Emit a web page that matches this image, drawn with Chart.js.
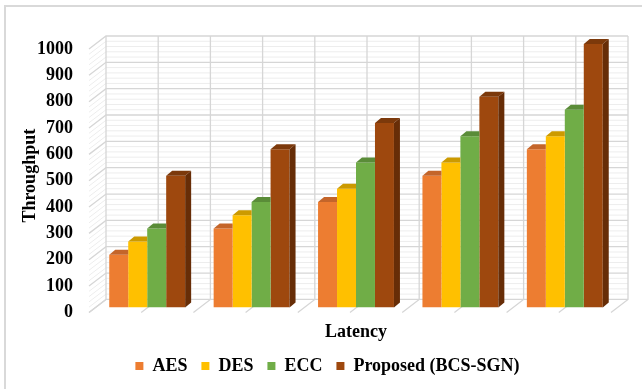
<!DOCTYPE html>
<html>
<head>
<meta charset="utf-8">
<script src="https://cdn.jsdelivr.net/npm/chart.js@4.4.0/dist/chart.umd.min.js"></script>
<style>
  html, body { margin: 0; padding: 0; background: #ffffff; }
  #wrap { width: 642px; height: 389px; position: relative; }
</style>
</head>
<body>
<div id="wrap"><canvas id="chart" width="642" height="389"></canvas></div>
<script>
// Five latency groups (no category captions on the axis)
const categories = ['', '', '', '', ''];
const seriesNames = ['AES', 'DES', 'ECC', 'Proposed (BCS-SGN)'];
const aesValues = [200, 300, 400, 500, 600];
const desValues = [250, 350, 450, 550, 650];
const eccValues = [300, 400, 550, 650, 750];
const proposedValues = [500, 600, 700, 800, 1000];

// Value axis
const yMin = 0;
const yMax = 1000;
const yStep = 100;
const yMinorStep = 20;

// Face colours: front, top, side
const frontColors = ['#ED7D31', '#FFC000', '#70AD47', '#9E480E'];
const topColors = ['#C4652A', '#CC9A00', '#5A8C38', '#7C390B'];
const sideColors = ['#B35A22', '#BF9000', '#4E7A30', '#672D07'];

const FONT = { family: '"Liberation Serif", "Times New Roman", serif', weight: 'bold', size: 18 };
const TEXT = '#000000';

// Depth offsets of the pseudo-3D box relative to the bar plane
const BACK = { dx: 11, dy: -8 };
const FRONT = { dx: -6, dy: 5 };
const BAR_DEPTH = { dx: 6, dy: -5 };
const MAJOR_GRID = '#d6d6d6';
const MINOR_GRID = '#ededed';

const frame = {
  id: 'frame',
  beforeDraw(chart) {
    const ctx = chart.ctx;
    ctx.save();
    ctx.strokeStyle = '#d9d9d9';
    ctx.lineWidth = 2;
    ctx.strokeRect(5, 6, 700, 420);
    ctx.restore();
  }
};

const walls3d = {
  id: 'walls3d',
  beforeDatasetsDraw(chart) {
    const { ctx } = chart;
    const xs = chart.scales.x, ys = chart.scales.y;
    const n = chart.data.labels.length;
    const yBottom = ys.getPixelForValue(yMin);
    const yTop = ys.getPixelForValue(yMax);
    const xl = xs.getPixelForValue(-0.5);
    const xr = xs.getPixelForValue(n - 0.5);
    ctx.save();
    // minor lines first, majors on top
    [false, true].forEach(drawMajor => {
      for (let v = yMin; v <= yMax; v += yMinorStep) {
        const major = v % yStep === 0;
        if (major !== drawMajor) continue;
        const py = ys.getPixelForValue(v);
        ctx.strokeStyle = major ? MAJOR_GRID : MINOR_GRID;
        ctx.lineWidth = major ? 1.3 : 1;
        ctx.beginPath();
        ctx.moveTo(xl + FRONT.dx, py + FRONT.dy);
        ctx.lineTo(xl + BACK.dx, py + BACK.dy);
        ctx.lineTo(xr + BACK.dx, py + BACK.dy);
        ctx.stroke();
      }
    });
    // vertical lines on the back wall, continued across the floor
    for (let k = 0; k <= 2 * n; k++) {
      const px = xs.getPixelForValue(-0.5 + k * 0.5);
      ctx.strokeStyle = MAJOR_GRID;
      ctx.lineWidth = 1.3;
      ctx.beginPath();
      ctx.moveTo(px + FRONT.dx, yBottom + FRONT.dy);
      ctx.lineTo(px + BACK.dx, yBottom + BACK.dy);
      ctx.lineTo(px + BACK.dx, yTop + BACK.dy);
      ctx.stroke();
    }
    ctx.restore();
  },
  afterDatasetsDraw(chart) {
    const ctx = chart.ctx;
    const d = BAR_DEPTH;
    const last = chart.data.datasets.length - 1;
    ctx.save();
    chart.data.datasets.forEach((ds, i) => {
      const meta = chart.getDatasetMeta(i);
      meta.data.forEach(bar => {
        const { x, y, base, width } = bar.getProps(['x', 'y', 'base', 'width'], true);
        const l = x - width / 2, r = x + width / 2;
        ctx.fillStyle = topColors[i];
        ctx.beginPath();
        ctx.moveTo(l, y);
        ctx.lineTo(r, y);
        if (i === last) {
          ctx.lineTo(r + d.dx, y + d.dy);
        } else {
          // the neighbouring taller bar hides everything right of this edge
          ctx.lineTo(r, y + d.dy);
        }
        ctx.lineTo(l + d.dx, y + d.dy);
        ctx.closePath();
        ctx.fill();
        if (i === last) {
          ctx.fillStyle = sideColors[i];
          ctx.beginPath();
          ctx.moveTo(r, y);
          ctx.lineTo(r + d.dx, y + d.dy);
          ctx.lineTo(r + d.dx, base + d.dy);
          ctx.lineTo(r, base);
          ctx.closePath();
          ctx.fill();
        }
      });
    });
    ctx.restore();
  }
};

const seriesValues = [aesValues, desValues, eccValues, proposedValues];
const datasets = seriesNames.map((name, i) => ({
  label: name,
  data: seriesValues[i],
  backgroundColor: frontColors[i],
  borderWidth: 0,
  categoryPercentage: 0.727,
  barPercentage: 1.0
}));

new Chart(document.getElementById('chart'), {
  type: 'bar',
  data: { labels: categories, datasets },
  plugins: [frame, walls3d],
  options: {
    responsive: false,
    animation: false,
    devicePixelRatio: 1,
    layout: { padding: { left: 16, right: 3, top: 44, bottom: 4 } },
    plugins: {
      title: { display: false },
      tooltip: { enabled: false },
      legend: {
        position: 'bottom',
        labels: {
          boxWidth: 8,
          boxHeight: 8,
          padding: 14,
          color: TEXT,
          font: FONT
        }
      }
    },
    scales: {
      x: {
        ticks: { display: false },
        grid: { display: false, drawTicks: false },
        border: { display: false },
        title: {
          display: true,
          text: 'Latency',
          color: TEXT,
          font: FONT,
          padding: { top: 14, bottom: 0 }
        }
      },
      y: {
        min: yMin,
        max: yMax,
        ticks: {
          stepSize: yStep,
          padding: 22,
          labelOffset: 5,
          color: TEXT,
          font: FONT,
          callback: v => String(v)
        },
        grid: { display: false, drawTicks: false },
        border: { display: false },
        title: {
          display: true,
          text: 'Throughput',
          color: TEXT,
          font: FONT,
          padding: { top: 4, bottom: 0 }
        },
        afterFit(scale) { scale.width = 79; }
      },
      yRight: {
        position: 'right',
        display: true,
        ticks: { display: false },
        grid: { display: false, drawTicks: false },
        border: { display: false },
        afterFit(scale) { scale.width = 22; }
      }
    }
  }
});
</script>
</body>
</html>
